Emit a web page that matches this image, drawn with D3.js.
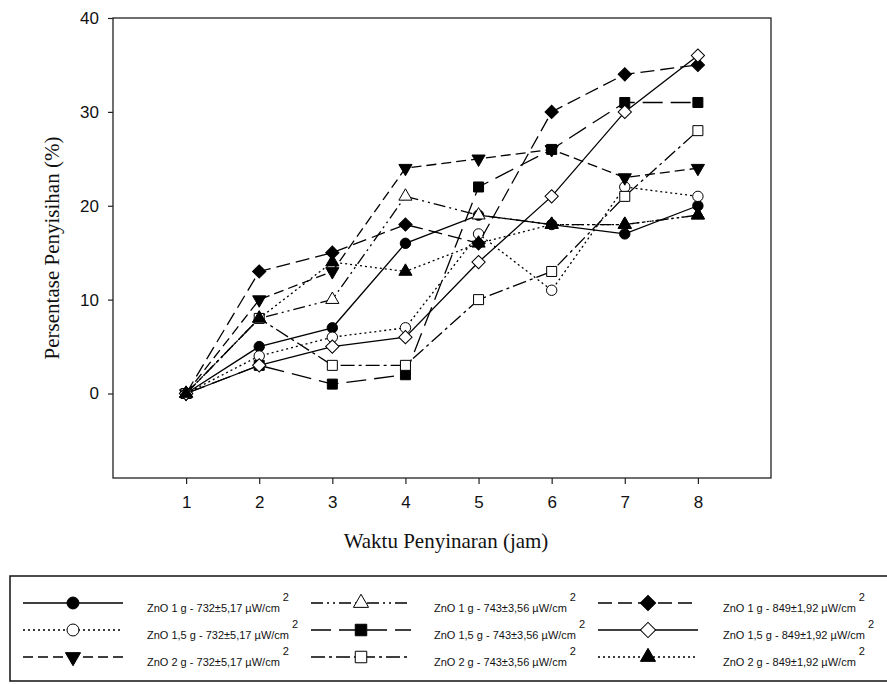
<!DOCTYPE html>
<html><head><meta charset="utf-8">
<script src="https://cdn.jsdelivr.net/npm/d3@7"></script>
<style>body{margin:0;background:#fff}svg{display:block}</style>
</head><body>
<svg id="c" width="887" height="684"></svg>
<script>
const hours = [1,2,3,4,5,6,7,8];
const yTicks = [0,10,20,30,40];
const labels = [
  "ZnO 1 g - 732±5,17 µW/cm","ZnO 1,5 g - 732±5,17 µW/cm","ZnO 2 g - 732±5,17 µW/cm",
  "ZnO 1 g - 743±3,56 µW/cm","ZnO 1,5 g - 743±3,56 µW/cm","ZnO 2 g - 743±3,56 µW/cm",
  "ZnO 1 g - 849±1,92 µW/cm","ZnO 1,5 g - 849±1,92 µW/cm","ZnO 2 g - 849±1,92 µW/cm"];
const zno1g732  = [0,5,7,16,19,18,17,20];
const zno15g732 = [0,4,6,7,17,11,22,21];
const zno2g732  = [0,10,13,24,25,26,23,24];
const zno1g743  = [0,8,10,21,19,18,18,19];
const zno15g743 = [0,3,1,2,22,26,31,31];
const zno2g743  = [0,8,3,3,10,13,21,28];
const zno1g849  = [0,13,15,18,16,30,34,35];
const zno15g849 = [0,3,5,6,14,21,30,36];
const zno2g849  = [0,8,14,13,16,18,18,19];

const seriesVals = [zno1g732,zno15g732,zno2g732,zno1g743,zno15g743,zno2g743,zno1g849,zno15g849,zno2g849];
const styles = [
  {sym:"circle", fill:"#000", dash:null},
  {sym:"circle", fill:"#fff", dash:"2,3"},
  {sym:"tridown", fill:"#000", dash:"10,5"},
  {sym:"triup", fill:"#fff", dash:"12,4,2,4,2,4"},
  {sym:"square", fill:"#000", dash:"20,8"},
  {sym:"square", fill:"#fff", dash:"14,4,3,4"},
  {sym:"diamond", fill:"#000", dash:"14,6"},
  {sym:"diamond", fill:"#fff", dash:null},
  {sym:"triup", fill:"#000", dash:"2,3"}
];

const svg = d3.select("#c");
const L=113, R=771, T=18, B=478;
const x = d3.scaleLinear().domain([0,9]).range([L,R]);
const y = d3.scaleLinear().domain([-9,40]).range([B,T]);

function symPath(kind, s){
  const k = s||1;
  if(kind==="circle") return d3.symbol(d3.symbolCircle, 85*k*k)();
  if(kind==="square") return d3.symbol(d3.symbolSquare, 100*k*k)();
  if(kind==="diamond") return d3.symbol(d3.symbolSquare, 88*k*k)();
  return d3.symbol(d3.symbolTriangle, 75*k*k)();
}
function symRot(kind){ return kind==="diamond"?45:(kind==="tridown"?180:0); }

svg.append("rect").attr("x",L).attr("y",T).attr("width",R-L).attr("height",B-T)
  .attr("fill","none").attr("stroke","#222").attr("stroke-width",1.3);

const yAxis = d3.axisLeft(y).tickValues(yTicks).tickSize(5).tickPadding(9).tickFormat(d3.format("d"));
const gy = svg.append("g").attr("transform",`translate(${L},0)`).call(yAxis);
const xAxis = d3.axisBottom(x).tickValues(hours).tickSize(6).tickPadding(12).tickFormat(d3.format("d"));
const gx = svg.append("g").attr("transform",`translate(0,${B})`).call(xAxis);
[gx,gy].forEach(g=>{
  g.select(".domain").remove();
  g.selectAll("line").attr("stroke","#222").attr("stroke-width",1.2);
  g.selectAll("text").attr("font-family","Liberation Sans, Arial, sans-serif").attr("font-size",17).attr("fill","#111");
});

svg.append("text").attr("x",(L+R)/2+4).attr("y",548).attr("text-anchor","middle")
  .attr("font-family","Liberation Serif, Times New Roman, serif").attr("font-size",21).attr("fill","#111")
  .text("Waktu Penyinaran (jam)");
svg.append("text").attr("transform","translate(59,248) rotate(-90)").attr("text-anchor","middle")
  .attr("font-family","Liberation Serif, Times New Roman, serif").attr("font-size",21).attr("fill","#111")
  .text("Persentase Penyisihan (%)");

const line = d3.line().x((d,i)=>x(hours[i])).y(d=>y(d));
seriesVals.forEach((vals,si)=>{
  const st = styles[si];
  const g = svg.append("g");
  g.append("path").datum(vals).attr("d",line).attr("fill","none").attr("stroke","#000")
    .attr("stroke-width",1.3).attr("stroke-dasharray",st.dash);
  g.selectAll("path.m").data(vals).join("path").attr("class","m")
    .attr("d",symPath(st.sym))
    .attr("transform",(d,i)=>`translate(${x(hours[i])},${y(d)}) rotate(${symRot(st.sym)})`)
    .attr("fill",st.fill).attr("stroke","#000").attr("stroke-width",1);
});

svg.append("rect").attr("x",10).attr("y",576).attr("width",900).attr("height",105)
  .attr("fill","none").attr("stroke","#111").attr("stroke-width",1.5);
const colX = [23,311,598];
const textX = [147,434,723];
const rowY = [603,630,657];
labels.forEach((lab,i)=>{
  const c = Math.floor(i/3), r = i%3, st = styles[i];
  const ly = rowY[r];
  svg.append("line").attr("x1",colX[c]).attr("x2",colX[c]+100).attr("y1",ly).attr("y2",ly)
    .attr("stroke","#000").attr("stroke-width",1.3).attr("stroke-dasharray",st.dash);
  svg.append("path").attr("d",symPath(st.sym,1.15))
    .attr("transform",`translate(${colX[c]+50},${ly}) rotate(${symRot(st.sym)})`)
    .attr("fill",st.fill).attr("stroke","#000").attr("stroke-width",1);
  const t = svg.append("text").attr("x",textX[c]).attr("y",ly+9)
    .attr("font-family","Liberation Sans, Arial, sans-serif").attr("font-size",11).attr("fill","#111")
    .text(lab);
  const w = t.node().getComputedTextLength();
  svg.append("text").attr("x",textX[c]+w+3).attr("y",ly-2)
    .attr("font-family","Liberation Sans, Arial, sans-serif").attr("font-size",11).attr("fill","#111")
    .text("2");
});
</script>
</body></html>
